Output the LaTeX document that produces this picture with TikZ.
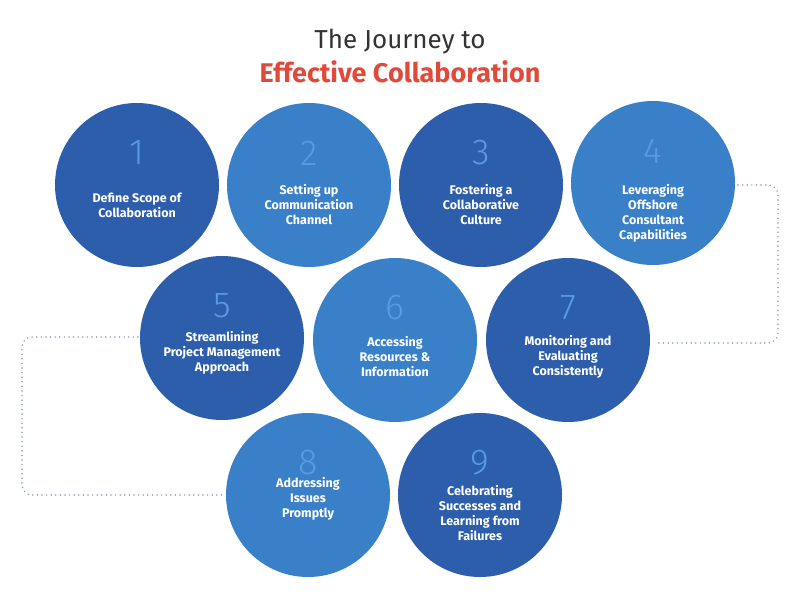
\documentclass[tikz,border=0pt]{standalone}
\usepackage{fontspec}
\setmainfont{Fira Sans}
\newfontfamily\thinf{Fira Sans Light}
\begin{document}
\begin{tikzpicture}[x=1pt,y=-1pt,
  dk/.style={circle,fill=cdark,minimum size=164pt,inner sep=0pt},
  lt/.style={circle,fill=clight,minimum size=164pt,inner sep=0pt},
  num/.style={text=cnum,font=\fontsize{36}{36}\selectfont\thinf},
  lab/.style={text=white,font=\fontsize{12.5}{15}\selectfont\bfseries,align=center},
  dots/.style={draw=cdot,line width=1.6pt,dash pattern=on 0.1pt off 4.5pt,line cap=round,rounded corners=10pt}]
\definecolor{cdark}{HTML}{2D5EAB}
\definecolor{clight}{HTML}{3A80C9}
\definecolor{cnum}{HTML}{5A9AE0}
\definecolor{cdot}{HTML}{8A9BB8}
\definecolor{cred}{HTML}{E04A3A}
\definecolor{cgray}{HTML}{333333}
\useasboundingbox (0,0) rectangle (800,600);
\node[text=cgray,font=\fontsize{26}{26}\selectfont] (t1) at (400,42) {The Journey to};
\node[text=cred,font=\fontsize{27}{27}\selectfont\bfseries] (t2) at (400,72) {Effective Collaboration};
\draw[dots] (738,185) -- (778,185) -- (778,343) -- (655,343);
\draw[dots] (138,337) -- (22,337) -- (22,495) -- (225,495);
\node[dk] (c1) at (137,185) {};
\node[lt] (c2) at (309,185) {};
\node[dk] (c3) at (481,185) {};
\node[lt] (c4) at (653,183) {};
\node[dk] (c5) at (222,338) {};
\node[lt] (c6) at (395,340) {};
\node[dk] (c7) at (568,340) {};
\node[lt] (c8) at (308,495) {};
\node[dk] (c9) at (480,495) {};
\foreach \c/\n in {c1/1,c2/2,c3/3,c4/4,c5/5,c6/6,c7/7,c8/8,c9/9}{
  \node[num] (n\n) at ([yshift=32pt]\c.center) {\n};
}
\node[lab] (l1) at ([yshift=-20pt]c1.center) {Define Scope of\\Collaboration};
\node[lab] (l2) at ([yshift=-20pt]c2.center) {Setting up\\Communication\\Channel};
\node[lab] (l3) at ([yshift=-20pt]c3.center) {Fostering a\\Collaborative\\Culture};
\node[lab] (l4) at ([yshift=-30pt]c4.center) {Leveraging\\Offshore\\Consultant\\Capabilities};
\node[lab] (l5) at ([yshift=-15pt]c5.center) {Streamlining\\Project Management\\Approach};
\node[lab] (l6) at ([yshift=-17pt]c6.center) {Accessing\\Resources \&\\Information};
\node[lab] (l7) at ([yshift=-17pt]c7.center) {Monitoring and\\Evaluating\\Consistently};
\node[lab] (l8) at ([yshift=-4pt]c8.center) {Addressing\\Issues\\Promptly};
\node[lab] (l9) at ([yshift=-18pt]c9.center) {Celebrating\\Successes and\\Learning from\\Failures};
\end{tikzpicture}
\end{document}
